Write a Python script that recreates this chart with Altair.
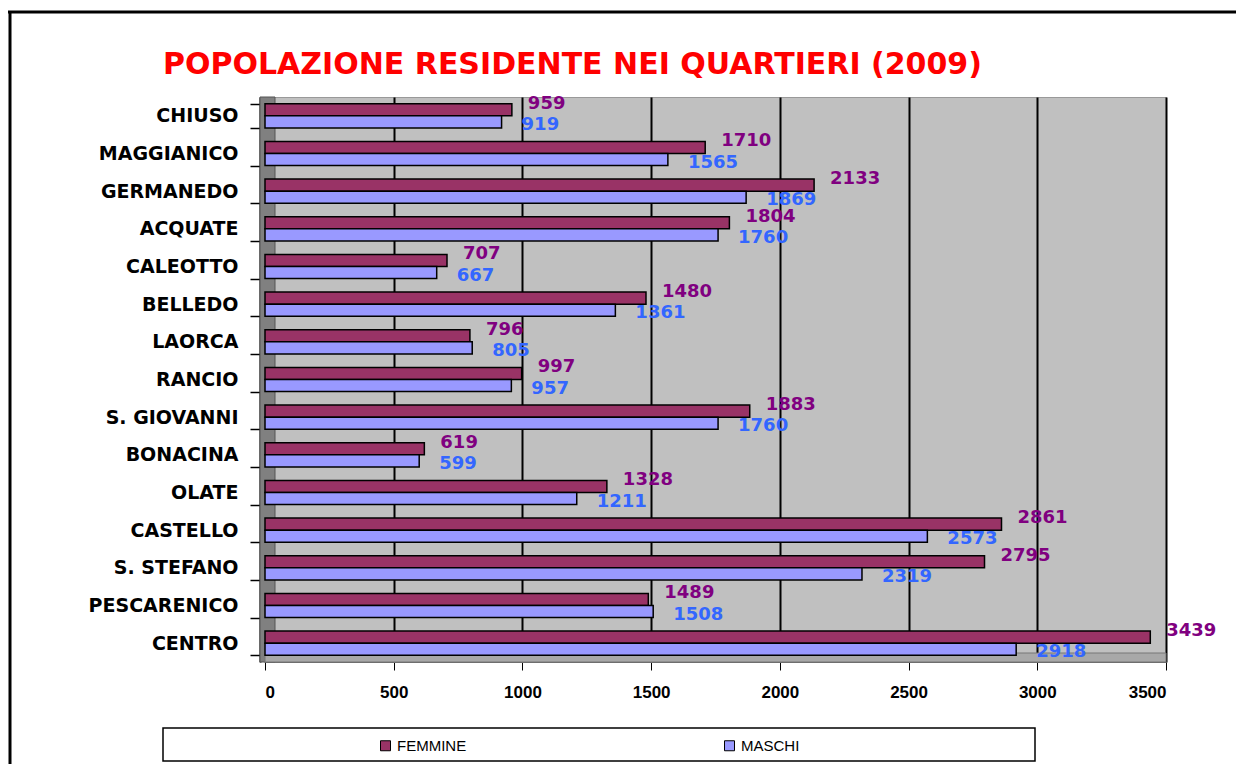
import altair as alt
import pandas as pd

quartieri = ["CHIUSO", "MAGGIANICO", "GERMANEDO", "ACQUATE", "CALEOTTO", "BELLEDO",
             "LAORCA", "RANCIO", "S. GIOVANNI", "BONACINA", "OLATE", "CASTELLO",
             "S. STEFANO", "PESCARENICO", "CENTRO"]
femmine = [959, 1710, 2133, 1804, 707, 1480, 796, 997, 1883, 619, 1328, 2861, 2795, 1489, 3439]
maschi = [919, 1565, 1869, 1760, 667, 1361, 805, 957, 1760, 599, 1211, 2573, 2319, 1508, 2918]
serie = ["FEMMINE", "MASCHI"]
x_ticks = [0, 500, 1000, 1500, 2000, 2500, 3000, 3500]
titolo = ["POPOLAZIONE RESIDENTE NEI QUARTIERI (2009)"]

rows = []
for q, f, m in zip(quartieri, femmine, maschi):
    rows.append({"quartiere": q, "serie": "FEMMINE", "valore": f})
    rows.append({"quartiere": q, "serie": "MASCHI", "valore": m})
df = pd.DataFrame(rows)
one = pd.DataFrame({"k": [0]})
df_title = pd.DataFrame({"t": titolo})

W, H = 901, 565

y_enc = alt.Y("quartiere:N", sort=quartieri,
              scale=alt.Scale(paddingInner=0.36, paddingOuter=0.18),
              axis=alt.Axis(title=None, tickBand="extent", tickSize=10, tickColor="black",
                            tickWidth=1.5, domainColor="black", domainWidth=2,
                            labelFont="DejaVu Sans", labelFontWeight="bold", labelFontSize=19,
                            labelColor="black", labelPadding=12, offset=5))
yoff = alt.YOffset("serie:N", sort=serie)
x_enc = alt.X("valore:Q", scale=alt.Scale(domain=[0, 3500], nice=False),
              axis=alt.Axis(values=x_ticks, format="d", title=None, grid=True, gridColor="black",
                            gridWidth=2, gridOpacity=1, labelFont="Liberation Sans",
                            labelFontWeight="bold", labelFontSize=17, labelColor="black",
                            labelPadding=14, tickSize=8, tickColor="black",
                            domainColor="#666666", domainWidth=1))

wall = alt.Chart(one).mark_rect(color="#808080", stroke="#555555").encode(
    x=alt.value(-5), x2=alt.value(10), y=alt.value(0), y2=alt.value(H))
floor = alt.Chart(one).mark_rect(color="#A8A8A8", stroke="#777777").encode(
    x=alt.value(0), x2=alt.value(W), y=alt.value(H - 9), y2=alt.value(H))

bars = alt.Chart(df).mark_bar(stroke="black", strokeWidth=1.5, opacity=1).encode(
    y=y_enc, yOffset=yoff, x=x_enc,
    color=alt.Color("serie:N",
                    scale=alt.Scale(domain=serie, range=["#993366", "#9999FF"]),
                    legend=alt.Legend(title=None, orient="none", legendX=113, legendY=641,
                                      direction="horizontal", symbolType="square",
                                      symbolSize=100, symbolStrokeColor="black",
                                      symbolStrokeWidth=1, labelFont="Liberation Sans",
                                      labelFontSize=15, labelColor="black",
                                      columnPadding=255, symbolOpacity=1)))

text_f = alt.Chart(df).transform_filter(alt.datum.serie == "FEMMINE").mark_text(
    align="left", baseline="middle", dx=16, dy=-6, font="DejaVu Sans", fontWeight="bold",
    fontSize=18, color="#800080").encode(
    y=alt.Y("quartiere:N", sort=quartieri), yOffset=yoff, x="valore:Q", text="valore:Q")
text_m = alt.Chart(df).transform_filter(alt.datum.serie == "MASCHI").mark_text(
    align="left", baseline="middle", dx=20, dy=3, font="DejaVu Sans", fontWeight="bold",
    fontSize=18, color="#3366FF").encode(
    y=alt.Y("quartiere:N", sort=quartieri), yOffset=yoff, x="valore:Q", text="valore:Q")

title_mark = alt.Chart(df_title).mark_text(
    align="left", baseline="middle", font="DejaVu Sans", fontWeight="bold", fontSize=30,
    color="#FF0000").encode(x=alt.value(-102), y=alt.value(-32), text="t:N")

legend_box = alt.Chart(one).mark_rect(fill="white", stroke="black", strokeWidth=1.5).encode(
    x=alt.value(-102), x2=alt.value(770), y=alt.value(631), y2=alt.value(664))
border_top = alt.Chart(one).mark_rule(color="black", strokeWidth=3).encode(
    x=alt.value(-257), x2=alt.value(1000), y=alt.value(-85))
border_left = alt.Chart(one).mark_rule(color="black", strokeWidth=3).encode(
    x=alt.value(-255), y=alt.value(-86), y2=alt.value(700))

chart = alt.layer(wall, floor, bars, text_f, text_m, title_mark, legend_box,
                  border_top, border_left).properties(
    width=W, height=H,
    padding={"left": 257, "top": 89, "right": 70, "bottom": 102},
    autosize=alt.AutoSizeParams(type="none"),
    background="white",
).configure_view(fill="#C0C0C0", stroke="#999999")

chart.save("out.html", embed_options={"renderer": "svg", "actions": False})
